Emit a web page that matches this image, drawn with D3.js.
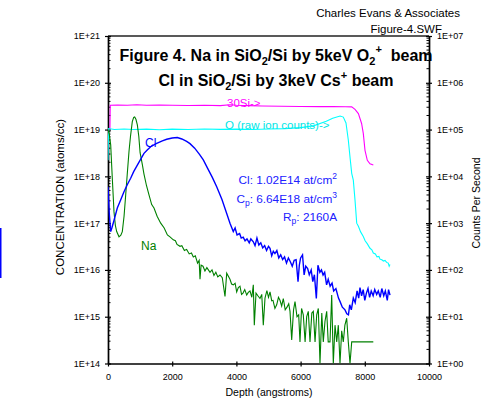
<!DOCTYPE html>
<html>
<head>
<meta charset="utf-8">
<script src="https://cdn.jsdelivr.net/npm/d3@7"></script>
<style>
body{margin:0;background:#fff;}
svg{font-family:Arial,"Liberation Sans",sans-serif;}
</style>
</head>
<body>
<svg id="chart" width="490" height="402"></svg>
<script>
// depth (angstroms), value
// Na, Cl : atoms/cc (left axis)   30Si, O : counts/sec (right axis)
var naSeries = [[0,1.0e19],[40,7.9e18],[84,4.7e18],[134,9.1e17],[187,1.74e17],[230,8.9e16],[271,6.6e16],[343,5.1e16],[400,5.5e16],[446,6.6e16],[500,1.4e17],[551,4.0e17],[600,1.12e18],[654,3.4e18],[700,7.1e18],[757,1.48e19],[800,1.82e19],[831,1.86e19],[870,1.66e19],[914,1.26e19],[960,7.1e18],[1000,3.2e18],[1070,1.78e18],[1121,1.12e18],[1200,6.3e17],[1277,4.0e17],[1361,2.5e17],[1433,2.1e17],[1530,1.4e17],[1642,1.0e17],[1750,7.9e16],[1850,5.6e16],[1931,5.1e16],[2034,4.4e16],[2100,4.2e16],[2150,3.5e16],[2243,3.2e16],[2300,3.3e16],[2380,2.6e16],[2450,2.75e16],[2530,2.2e16],[2600,2.3e16],[2658,1.9e16],[2720,2.0e16],[2790,1.4e16],[2840,1.6e16],[2866,6.3e15],[2900,1.26e16],[2960,1.2e16],[3020,9.5e15],[3080,1.12e16],[3178,8.9e15],[3240,1.0e16],[3300,7.6e15],[3360,8.9e15],[3420,7.1e15],[3489,7.8e15],[3560,6.8e15],[3645,2.7e15],[3698,8.5e15],[3800,6.3e15],[3850,5.0e15],[3903,4.8e15],[3960,5.2e15],[4009,3.4e15],[4060,4.2e15],[4112,4.5e15],[4160,3.0e15],[4206,3.2e15],[4260,3.8e15],[4321,2.9e15],[4370,3.3e15],[4424,3.55e15],[4480,2.6e15],[4527,4.8e15],[4558,6.6e14],[4611,3.2e15],[4670,2.8e15],[4735,2.45e15],[4790,3.0e15],[4838,6.6e14],[4891,2.5e15],[4950,3.6e15],[5000,2.6e15],[5047,3.4e15],[5100,2.2e15],[5140,2.24e15],[5200,1.5e15],[5255,1.8e15],[5310,2.6e15],[5358,2.24e15],[5410,1.7e15],[5461,2.45e15],[5520,1.4e15],[5576,1.6e15],[5630,1.9e15],[5670,1.3e15],[5723,3.2e14],[5780,1.4e15],[5826,2.1e15],[5888,1.0e15],[5940,1.1e15],[5981,2.9e14],[6030,1.5e15],[6084,1.1e15],[6140,2.9e14],[6190,1.0e15],[6240,1.3e15],[6293,2.9e14],[6350,1.2e15],[6396,1.3e15],[6450,2.9e14],[6502,1.1e15],[6552,1.5e15],[6604,0],[6660,1.2e15],[6707,2.9e14],[6760,8.0e14],[6813,1.3e15],[6860,2.9e14],[6916,2.9e14],[6969,2.9e15],[7019,0],[7072,6.6e14],[7125,2.9e14],[7175,6.6e14],[7227,0],[7280,5.0e14],[7330,2.9e14],[7380,6.6e14],[7436,9.3e14],[7486,2.9e14],[7539,0],[7592,2.9e14],[8265,2.9e14]];

var clSeries = [[0,6.0e17],[40,1.6e17],[84,6.6e16],[120,7.9e16],[180,1.1e17],[290,2.1e17],[400,3.2e17],[498,4.7e17],[600,6.6e17],[706,9.1e17],[800,1.26e18],[914,1.74e18],[1020,2.34e18],[1121,3.1e18],[1230,3.7e18],[1330,4.3e18],[1500,5.0e18],[1692,5.75e18],[1830,6.2e18],[2000,6.6e18],[2160,6.76e18],[2300,6.3e18],[2450,5.6e18],[2554,5.0e18],[2700,4.0e18],[2850,2.95e18],[2969,2.24e18],[3100,1.5e18],[3250,9.5e17],[3386,6.0e17],[3550,3.2e17],[3698,1.6e17],[3800,1.0e17],[3903,6.6e16],[3960,7.9e16],[4020,5.6e16],[4100,6.0e16],[4150,4.8e16],[4212,5.0e16],[4270,4.2e16],[4330,4.6e16],[4400,3.8e16],[4450,4.6e16],[4527,4.0e16],[4580,3.3e16],[4640,4.8e16],[4700,3.4e16],[4760,3.8e16],[4820,2.95e16],[4880,3.3e16],[4940,2.6e16],[5000,3.2e16],[5047,2.9e16],[5100,2.0e16],[5150,2.5e16],[5200,2.24e16],[5260,2.6e16],[5320,1.8e16],[5380,2.1e16],[5440,1.66e16],[5500,1.9e16],[5560,1.4e16],[5620,1.8e16],[5680,1.5e16],[5740,1.2e16],[5800,1.6e16],[5860,1.66e16],[5920,5.6e15],[5960,1.26e16],[6000,1.8e16],[6060,2.1e16],[6110,7.8e15],[6160,1.2e16],[6220,1.07e16],[6270,7.9e15],[6330,1.0e16],[6380,5.6e15],[6430,7.9e15],[6490,2.45e15],[6540,1.26e16],[6600,8.9e15],[6650,1.0e16],[6700,7.8e15],[6750,8.9e15],[6810,4.8e15],[6860,6.3e15],[6920,4.5e15],[6980,5.25e15],[7030,3.55e15],[7100,4.0e15],[7180,2.5e15],[7230,2.1e15],[7300,1.6e15],[7383,1.4e15],[7440,1.15e15],[7490,1.1e15],[7530,1.8e15],[7580,1.4e15],[7642,2.5e15],[7700,2.0e15],[7760,3.55e15],[7810,2.5e15],[7850,4.2e15],[7900,2.8e15],[7950,3.8e15],[8000,2.24e15],[8050,3.2e15],[8100,4.0e15],[8150,2.6e15],[8200,3.55e15],[8260,2.8e15],[8310,3.8e15],[8370,3.0e15],[8420,3.55e15],[8480,2.6e15],[8530,4.0e15],[8590,2.8e15],[8640,3.55e15],[8700,2.24e15],[8740,3.8e15],[8785,2.9e15]];

var siSeries = [[60,1.0e5],[70,3.3e5],[300,3.35e5],[600,3.3e5],[900,3.4e5],[1200,3.3e5],[1600,3.35e5],[2000,3.3e5],[2500,3.28e5],[3000,3.3e5],[3500,3.25e5],[3800,3.4e5],[4000,3.3e5],[4400,3.25e5],[4800,3.2e5],[5400,3.15e5],[6000,3.12e5],[6600,3.1e5],[7000,3.1e5],[7400,3.08e5],[7592,3.05e5],[7695,2.7e5],[7800,2.2e5],[7900,1.35e5],[7953,8.3e4],[8006,3.6e4],[8078,2.2e4],[8162,1.85e4],[8265,1.74e4]];

var oSeries = [[0,2.2e4],[20,1.05e5],[200,1.0e5],[500,1.03e5],[800,1.0e5],[1200,1.02e5],[1600,9.9e4],[2000,1.02e5],[2500,1.0e5],[3000,1.03e5],[3500,1.01e5],[4000,1.02e5],[4500,1.0e5],[5000,1.03e5],[5500,1.05e5],[6000,1.1e5],[6400,1.2e5],[6800,1.5e5],[7000,1.75e5],[7230,1.95e5],[7330,1.85e5],[7414,1.38e5],[7486,6.0e4],[7539,2.6e4],[7592,1.16e4],[7642,8.3e3],[7695,3.1e3],[7748,1.0e3],[7800,8.6e2],[7870,6.5e2],[7953,5.2e2],[8010,4.2e2],[8080,3.6e2],[8162,2.9e2],[8220,2.7e2],[8265,2.3e2],[8330,2.2e2],[8380,1.9e2],[8440,1.95e2],[8474,1.7e2],[8530,1.65e2],[8580,1.55e2],[8630,1.6e2],[8680,1.45e2],[8730,1.4e2],[8760,1.2e2],[8785,1.3e2]];

var xTicks = [0,2000,4000,6000,8000,10000];
var leftTicks = [1e14,1e15,1e16,1e17,1e18,1e19,1e20,1e21];
var rightTicks = [1,1e1,1e2,1e3,1e4,1e5,1e6,1e7];

var L = 108, R = 429, T = 36, B = 363.5;

var svg = d3.select("#chart");
var x = d3.scaleLinear().domain([0,10000]).range([L,R]);
var yL = d3.scaleLog().domain([1e14,1e21]).range([B,T]);
var yR = d3.scaleLog().domain([1,1e7]).range([B,T]);

function expFmt(d){
	var e = Math.round(Math.log10(d));
	return "1E+" + (e < 10 ? "0" + e : e);
}

// left blue mark at page edge
svg.append("rect").attr("x",0).attr("y",228).attr("width",1.5).attr("height",50).attr("fill","#0000ff");

// header text
svg.append("text").attr("x",460).attr("y",16.5).attr("text-anchor","end")
	.attr("font-size","11.5px").attr("fill","#000").text("Charles Evans & Associates");
svg.append("text").attr("x",442).attr("y",33).attr("text-anchor","end")
	.attr("font-size","11.5px").attr("fill","#000").text("Figure-4.SWF");

svg.append("clipPath").attr("id","plotClip").append("rect")
	.attr("x",L).attr("y",T).attr("width",R-L).attr("height",B-T);

// top border
svg.append("line").attr("x1",L).attr("x2",R).attr("y1",T).attr("y2",T)
	.attr("stroke","#222").attr("stroke-width",1.5);

// axes
var gl = svg.append("g").attr("transform","translate("+L+",0)")
	.call(d3.axisLeft(yL).tickValues(leftTicks).tickFormat(expFmt).tickSizeInner(3).tickSizeOuter(0).tickPadding(5));
gl.selectAll(".tick line").attr("x1",3);
var gr = svg.append("g").attr("transform","translate("+R+",0)")
	.call(d3.axisRight(yR).tickValues(rightTicks).tickFormat(expFmt).tickSizeInner(3).tickSizeOuter(0).tickPadding(5));
gr.selectAll(".tick line").attr("x1",-3);
var gb = svg.append("g").attr("transform","translate(0,"+B+")")
	.call(d3.axisBottom(x).tickValues(xTicks).tickFormat(d3.format("d")).tickSizeInner(3).tickSizeOuter(0).tickPadding(7));
gb.selectAll(".tick line").attr("y1",-2);

[gl,gr,gb].forEach(function(g){
	g.select(".domain").attr("stroke","#000").attr("stroke-width",1.7);
	g.selectAll(".tick line").attr("stroke","#000").attr("stroke-width",1.2);
	g.selectAll("text").attr("font-size","9px").attr("fill","#000").attr("font-family","Arial,'Liberation Sans',sans-serif");
});

// minor log ticks
var minorL = yL.ticks().filter(function(d){ return Math.abs(Math.log10(d) - Math.round(Math.log10(d))) > 1e-6; });
svg.append("g").selectAll("line").data(minorL).join("line")
	.attr("x1",L).attr("x2",L+2.5).attr("y1",function(d){return yL(d);}).attr("y2",function(d){return yL(d);})
	.attr("stroke","#000").attr("stroke-width",1);
var minorR = yR.ticks().filter(function(d){ return Math.abs(Math.log10(d) - Math.round(Math.log10(d))) > 1e-6; });
svg.append("g").selectAll("line").data(minorR).join("line")
	.attr("x1",R-2.5).attr("x2",R).attr("y1",function(d){return yR(d);}).attr("y2",function(d){return yR(d);})
	.attr("stroke","#000").attr("stroke-width",1);

// axis titles
svg.append("text").attr("x",269).attr("y",396).attr("text-anchor","middle")
	.attr("font-size","10.5px").text("Depth (angstroms)");
svg.append("text").attr("transform","translate(64,197) rotate(-90)").attr("text-anchor","middle")
	.attr("font-size","11.5px").text("CONCENTRATION (atoms/cc)");
svg.append("text").attr("transform","translate(480,203) rotate(-90)").attr("text-anchor","middle")
	.attr("font-size","10.5px").text("Counts Per Second");

// series
var lineL = d3.line().x(function(d){return x(d[0]);}).y(function(d){return yL(Math.max(d[1],1e14));});
var lineR = d3.line().x(function(d){return x(d[0]);}).y(function(d){return yR(Math.max(d[1],1));});
var plot = svg.append("g").attr("clip-path","url(#plotClip)");
plot.append("path").datum(siSeries).attr("d",lineR).attr("fill","none").attr("stroke","#ff00ff").attr("stroke-width",1.1);
plot.append("path").datum(oSeries).attr("d",lineR).attr("fill","none").attr("stroke","#00ffff").attr("stroke-width",1.1);
plot.append("path").datum(naSeries).attr("d",lineL).attr("fill","none").attr("stroke","#008000").attr("stroke-width",1.1);
plot.append("path").datum(clSeries).attr("d",lineL).attr("fill","none").attr("stroke","#0000ff").attr("stroke-width",1.4);

// title
var t1 = svg.append("text").attr("x",276).attr("y",61).attr("text-anchor","middle")
	.attr("font-size","16px").attr("font-weight","bold");
t1.append("tspan").text("Figure 4. Na in SiO");
t1.append("tspan").attr("dy",4).attr("font-size","11px").text("2");
t1.append("tspan").attr("dy",-4).text("/Si by 5keV O");
t1.append("tspan").attr("dy",4).attr("font-size","11px").text("2");
t1.append("tspan").attr("dy",-12).attr("font-size","11px").text("+");
t1.append("tspan").attr("dy",8).attr("xml:space","preserve").text("  beam");

var t2 = svg.append("text").attr("x",276).attr("y",86).attr("text-anchor","middle")
	.attr("font-size","16px").attr("font-weight","bold");
t2.append("tspan").text("Cl in SiO");
t2.append("tspan").attr("dy",4).attr("font-size","11px").text("2");
t2.append("tspan").attr("dy",-4).text("/Si by 3keV Cs");
t2.append("tspan").attr("dy",-7.5).attr("font-size","11px").text("+");
t2.append("tspan").attr("dy",7.5).text(" beam");

// annotations
svg.append("text").attr("x",227).attr("y",107).attr("font-size","11.5px").attr("fill","#ff00ff").text("30Si->");
svg.append("text").attr("x",225).attr("y",129).attr("font-size","11.5px").attr("fill","#00e5e5").text("O (raw ion counts)->");
svg.append("text").attr("x",145).attr("y",147).attr("font-size","12px").attr("fill","#0000ff").text("Cl");
svg.append("text").attr("x",141).attr("y",250).attr("font-size","12px").attr("fill","#008000").text("Na");

var a1 = svg.append("text").attr("x",337).attr("y",184).attr("text-anchor","end").attr("font-size","11.8px").attr("fill","#2020ff");
a1.append("tspan").text("Cl: 1.02E14 at/cm");
a1.append("tspan").attr("dy",-5).attr("font-size","8.5px").text("2");
var a2 = svg.append("text").attr("x",337).attr("y",203).attr("text-anchor","end").attr("font-size","11.8px").attr("fill","#2020ff");
a2.append("tspan").text("C");
a2.append("tspan").attr("dy",3).attr("font-size","8.5px").text("p");
a2.append("tspan").attr("dy",-3).text(": 6.64E18 at/cm");
a2.append("tspan").attr("dy",-5).attr("font-size","8.5px").text("3");
var a3 = svg.append("text").attr("x",337).attr("y",221).attr("text-anchor","end").attr("font-size","11.8px").attr("fill","#2020ff");
a3.append("tspan").text("R");
a3.append("tspan").attr("dy",3).attr("font-size","8.5px").text("p");
a3.append("tspan").attr("dy",-3).text(": 2160A");
</script>
</body>
</html>
